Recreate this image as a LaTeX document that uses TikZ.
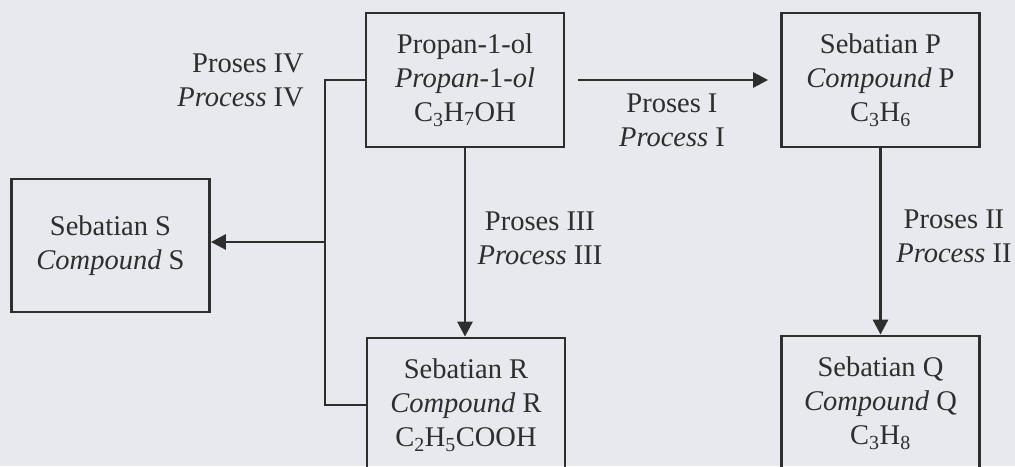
\documentclass[tikz,border=0pt]{standalone}
\usepackage{fontspec}
\setmainfont{Liberation Serif}
\usetikzlibrary{arrows.meta,calc}
\definecolor{bg}{HTML}{E8E9EE}
\definecolor{ink}{HTML}{2E2E2E}
\begin{document}
\begin{tikzpicture}[x=1pt,y=-1pt,
  box/.style={draw=ink,line width=2.8pt,minimum width=198pt,minimum height=134pt,align=center,inner sep=0pt,text=ink,font=\fontsize{28.5}{34}\selectfont},
  lbl/.style={align=center,text=ink,font=\fontsize{28.5}{34}\selectfont,inner sep=0pt},
  conn/.style={draw=ink,line width=2.8pt},
  arr/.style={conn,-{Triangle[length=15pt,width=15pt]}}]
\fill[bg] (0,0) rectangle (1015,466);
\useasboundingbox (0,0) rectangle (1015,466);
\clip (0,0) rectangle (1015,466);
\node[box] (A) at (465,80) {Propan-1-ol\\\textit{Propan}-1-\textit{ol}\\C\textsubscript{3}H\textsubscript{7}OH};
\node[box] (P) at (880.5,80) {Sebatian P\\\textit{Compound} P\\C\textsubscript{3}H\textsubscript{6}};
\node[box,minimum height=133pt] (S) at (110.5,245.5) {Sebatian S\\\textit{Compound} S};
\node[box] (R) at (466,405) {Sebatian R\\\textit{Compound} R\\C\textsubscript{2}H\textsubscript{5}COOH};
\node[box] (Q) at (880.5,403) {Sebatian Q\\\textit{Compound} Q\\C\textsubscript{3}H\textsubscript{8}};
\coordinate (c1) at (325,80);
\coordinate (c2) at (325,242);
\coordinate (c3) at (325,405);
\draw[arr,shorten <=13pt,shorten >=12pt] (A.east) -- (P.west);
\draw[arr] (P.south) -- (Q.north);
\draw[arr] (A.south) -- (A.south |- R.north);
\draw[conn] (A.west) -- (c1) -- (c3) -- (R.west);
\draw[arr] (c2) -- (c2 -| S.east);
\node[lbl] (l1) at (672,120) {Proses I\\\textit{Process} I};
\node[lbl] (l2) at (954,236) {Proses II\\\textit{Process} II};
\node[lbl] (l3) at (540,238) {Proses III\\\textit{Process} III};
\node[lbl,anchor=east,align=right] (l4) at (304,80) {Proses IV\\\textit{Process} IV};
\end{tikzpicture}
\end{document}
